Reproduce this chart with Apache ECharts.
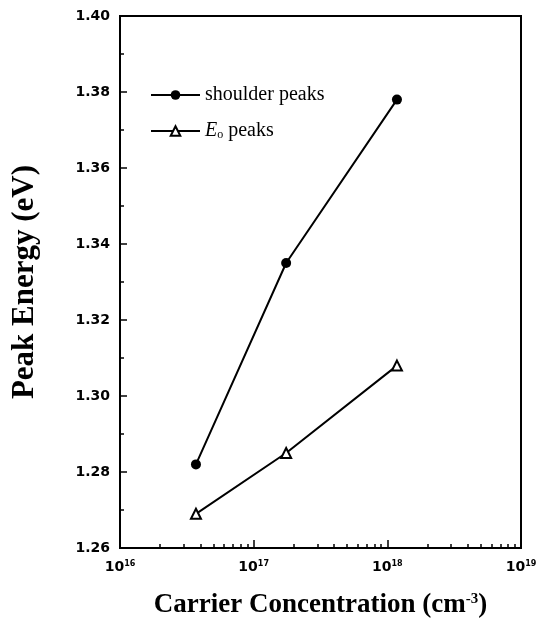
<!DOCTYPE html>
<html>
<head>
<meta charset="utf-8">
<script src="https://cdn.jsdelivr.net/npm/echarts@6/dist/echarts.min.js"></script>
<style>html,body{margin:0;padding:0;background:#fff}#c{width:540px;height:624px}</style>
</head>
<body>
<div id="c"></div>
<script>
// Data
var carrier = [3.7e16, 1.75e17, 1.18e18];
var shoulderPeaks = [1.282, 1.335, 1.378];
var e0Peaks = [1.269, 1.285, 1.308];
var xMajorTicks = [1e16, 1e17, 1e18, 1e19];
var xMinorTicks = [];
[1e16, 1e17, 1e18].forEach(function (d) { for (var k = 2; k <= 9; k++) xMinorTicks.push(k * d); });
var seriesNames = ['shoulder peaks', 'Eo peaks'];

var chart = echarts.init(document.getElementById('c'), null, {renderer: 'canvas'});
var labelFont = 'DejaVu Sans';
var serif = '"Liberation Serif", "Times New Roman", serif';

function pairs(xs, ys) { return xs.map(function (x, i) { return [x, ys[i]]; }); }

chart.setOption({
  animation: false,
  backgroundColor: '#fff',
  grid: {left: 120, right: 19, top: 16, bottom: 73, show: true, borderColor: '#000', borderWidth: 2, backgroundColor: 'transparent'},
  legend: {
    orient: 'vertical', left: 145, top: 80, itemWidth: 49, itemHeight: 12, itemGap: 16,
    data: seriesNames,
    textStyle: {fontFamily: serif, fontSize: 20, color: '#000', lineHeight: 20,
      rich: {
        i: {fontFamily: serif, fontSize: 20, fontStyle: 'italic', color: '#000'},
        sub: {fontFamily: serif, fontSize: 12, color: '#000', verticalAlign: 'bottom', padding: [8, 0, 0, 0]}
      }},
    formatter: function (n) { return n === 'Eo peaks' ? '{i|E}{sub|o} peaks' : n; }
  },
  xAxis: [{
    type: 'log', logBase: 10, min: 1e16, max: 1e19, gridIndex: 0, position: 'bottom',
    axisLine: {show: true, lineStyle: {color: '#000', width: 2}},
    axisTick: {show: true, inside: true, length: 8, lineStyle: {color: '#000', width: 1.5}, customValues: xMajorTicks},
    axisLabel: {show: true, margin: 12, customValues: xMajorTicks,
      formatter: function (v) { return '10{sup|' + Math.round(Math.log10(v)) + '}'; },
      rich: {
        sup: {fontFamily: labelFont, fontWeight: 'bold', fontSize: 8, color: '#000', verticalAlign: 'top', lineHeight: 8}
      },
      fontFamily: labelFont, fontWeight: 'bold', fontSize: 14, color: '#000'},
    splitLine: {show: false}, minorTick: {show: false},
    name: 'Carrier Concentration (cm{sup|-3})', nameLocation: 'middle', nameGap: 44,
    nameTextStyle: {fontFamily: serif, fontWeight: 'bold', fontSize: 27, color: '#000', verticalAlign: 'top',
      rich: {sup: {fontFamily: serif, fontWeight: 'bold', fontSize: 15, color: '#000', verticalAlign: 'top'}}}
  }, {
    type: 'log', logBase: 10, min: 1e16, max: 1e19, gridIndex: 0, position: 'bottom',
    axisLine: {show: false},
    axisTick: {show: true, inside: true, length: 4, lineStyle: {color: '#000', width: 1.5}, customValues: xMinorTicks},
    axisLabel: {show: false}, splitLine: {show: false}
  }],
  yAxis: {
    type: 'value', min: 1.26, max: 1.40, interval: 0.02,
    axisLine: {show: true, lineStyle: {color: '#000', width: 2}},
    axisTick: {show: true, inside: true, length: 7, lineStyle: {color: '#000', width: 1.5}},
    minorTick: {show: true, splitNumber: 2, length: 4, lineStyle: {color: '#000', width: 1.5}},
    axisLabel: {margin: 10, fontFamily: labelFont, fontWeight: 'bold', fontSize: 14, color: '#000',
      formatter: function (v) { return v.toFixed(2); }},
    splitLine: {show: false},
    name: 'Peak Energy (eV)', nameLocation: 'middle', nameGap: 80,
    nameTextStyle: {fontFamily: serif, fontWeight: 'bold', fontSize: 31, color: '#000'}
  },
  series: [{
    name: seriesNames[0], type: 'line', data: pairs(carrier, shoulderPeaks),
    symbol: 'circle', symbolSize: 10,
    lineStyle: {color: '#000', width: 2},
    itemStyle: {color: '#000', borderColor: '#000', borderWidth: 0}
  }, {
    name: seriesNames[1], type: 'line', data: pairs(carrier, e0Peaks),
    symbol: 'triangle', symbolSize: 10,
    lineStyle: {color: '#000', width: 2},
    itemStyle: {color: '#fff', borderColor: '#000', borderWidth: 2}
  }]
});
</script>
</body>
</html>
